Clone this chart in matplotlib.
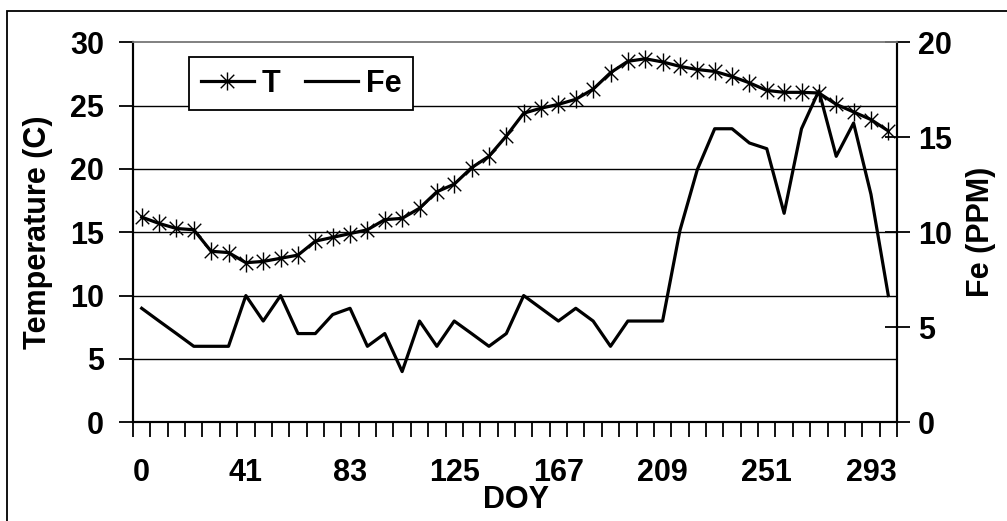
import matplotlib
matplotlib.use("Agg")
import matplotlib.pyplot as plt
from matplotlib.path import Path
from matplotlib.patches import Rectangle

# ---- data ----
doy = [0, 7, 14, 21, 28, 35, 41, 48, 55, 62, 69, 76, 83, 90, 97, 104, 111, 118,
       125, 132, 139, 146, 153, 160, 167, 174, 181, 188, 195, 202, 209, 216,
       223, 230, 237, 244, 251, 258, 265, 272, 279, 286, 293, 300]
temp = [16.2, 15.7, 15.3, 15.2, 13.5, 13.4, 12.6, 12.7, 12.95, 13.2, 14.3, 14.6,
        14.9, 15.2, 16.0, 16.1, 16.9, 18.2, 18.8, 20.1, 21.0, 22.6, 24.4, 24.8,
        25.1, 25.5, 26.3, 27.6, 28.5, 28.7, 28.45, 28.1, 27.85, 27.7, 27.3, 26.8,
        26.2, 26.05, 26.05, 26.0, 25.1, 24.5, 23.9, 23.0]
fe = [6.0, 5.33, 4.67, 4.0, 4.0, 4.0, 6.67, 5.33, 6.67, 4.67, 4.67, 5.67,
      6.0, 4.0, 4.67, 2.67, 5.33, 4.0, 5.33, 4.67, 4.0, 4.67, 6.67, 6.0,
      5.33, 6.0, 5.33, 4.0, 5.33, 5.33, 5.33, 10.1, 13.3, 15.45, 15.45, 14.7,
      14.4, 11.0, 15.45, 17.45, 14.0, 15.75, 12.0, 6.67]
label_every = 6
t_ticks = [0, 5, 10, 15, 20, 25, 30]
fe_ticks = [0, 5, 10, 15, 20]

plt.rcParams['font.family'] = ['Liberation Sans', 'DejaVu Sans']
plt.rcParams['font.weight'] = 'bold'
FS = 22

fig = plt.figure(figsize=(10.07, 5.21), dpi=100)
W, H = 1007, 521
left, right, top, bottom = 133, 897, 42.3, 422.3
ax = fig.add_axes([left / W, 1 - bottom / H, (right - left) / W, (bottom - top) / H])
ax2 = ax.twinx()

# outer chart border
fig.patches.append(Rectangle((7 / W, -0.2), 1.2, 1 - 11 / H + 0.2,
                             transform=fig.transFigure, fill=False,
                             edgecolor='black', linewidth=1.3, zorder=0))

x = list(range(len(doy)))

# star marker: vertical + X
star = Path([(0, -1), (0, 1), (-0.75, -0.75), (0.75, 0.75), (-0.75, 0.75), (0.75, -0.75)],
            [Path.MOVETO, Path.LINETO, Path.MOVETO, Path.LINETO, Path.MOVETO, Path.LINETO])

lT, = ax.plot(x, temp, color='black', lw=2.3, marker=star, markersize=13,
              markeredgewidth=1.0, markerfacecolor='none', markeredgecolor='black',
              zorder=4, label='T')
lF, = ax2.plot(x, fe, color='black', lw=2.3, zorder=4, label='Fe')

ax.set_xlim(-0.5, len(doy) - 0.5)
ax.set_ylim(0, 30)
ax2.set_ylim(0, 20)

for v in t_ticks[1:-1]:
    ax.axhline(v, color='black', lw=1.0, zorder=1)

ax.set_yticks(t_ticks)
ax.set_yticklabels([str(v) for v in t_ticks], fontsize=FS, fontweight='bold')
ax.tick_params(axis='y', direction='out', length=10, width=1.3, pad=11)

ax2.set_yticks(fe_ticks)
ax2.set_yticklabels([str(v) for v in fe_ticks], fontsize=FS, fontweight='bold')
ax2.tick_params(axis='y', direction='inout', length=18, width=1.3, pad=6)

# category ticks
ax.set_xticks([i - 0.5 for i in range(len(doy) + 1)], minor=True)
ax.set_xticks(x[::label_every])
ax.set_xticklabels([str(d) for d in doy[::label_every]], fontsize=FS, fontweight='bold')
ax.tick_params(axis='x', which='major', length=0, pad=26)
ax.tick_params(axis='x', which='minor', direction='out', length=11, width=1.3)

for a in (ax, ax2):
    for s in ('left', 'right', 'bottom'):
        a.spines[s].set_linewidth(1.5)
        a.spines[s].set_color('black')
    a.spines['top'].set_color('#808080')
    a.spines['top'].set_linewidth(1.2)

ax.set_ylabel('Temperature (C)', fontsize=FS, fontweight='bold', labelpad=12)
ax2.set_ylabel('Fe (PPM)', fontsize=FS, fontweight='bold', labelpad=10)
fig.text(516 / W, 1 - 500.5 / H, 'DOY', fontsize=FS, fontweight='bold',
         ha='center', va='center')

ax2.set_zorder(ax.get_zorder() + 1)
ax2.patch.set_visible(False)

leg = ax2.legend(handles=[lT, lF], loc='upper left', bbox_to_anchor=(0.0733, 0.961),
                 ncol=2, frameon=True, fancybox=False, edgecolor='black',
                 handlelength=1.75, handletextpad=0.25, columnspacing=0.8,
                 borderpad=0.38, borderaxespad=0, prop={'size': FS, 'weight': 'bold'})
leg.get_frame().set_linewidth(1.3)
leg.get_frame().set_alpha(1)
leg.set_zorder(10)

fig.savefig('out.png', dpi=100)
